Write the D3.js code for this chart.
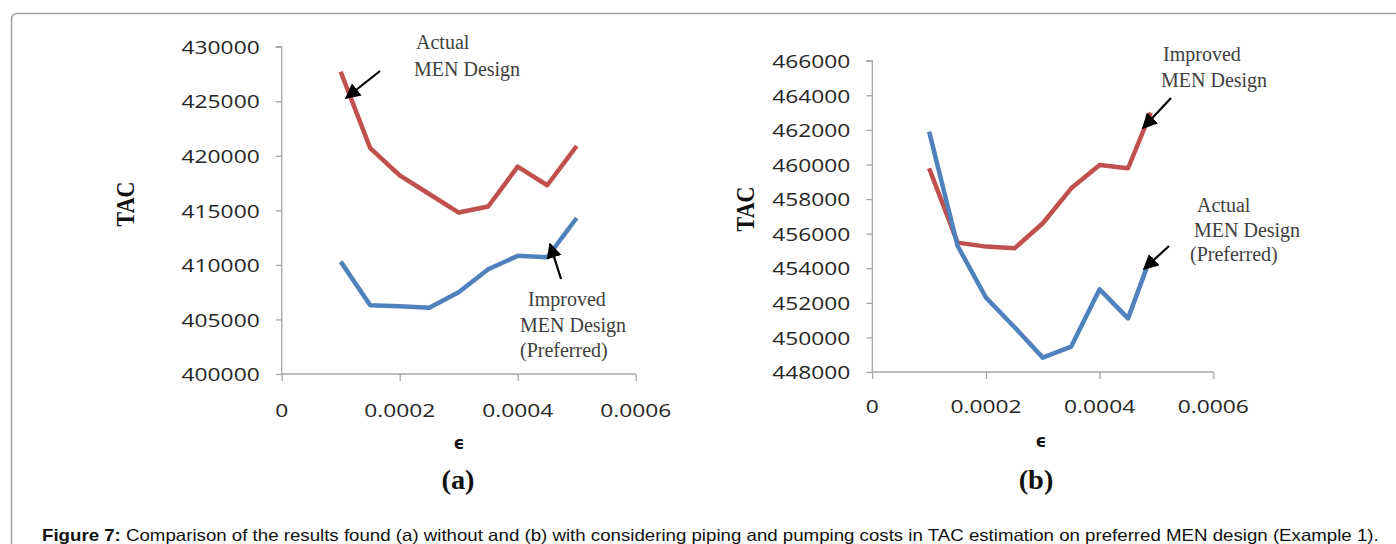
<!DOCTYPE html>
<html>
<head>
<meta charset="utf-8">
<script src="https://cdn.jsdelivr.net/npm/d3@7"></script>
<style>
  html, body { margin: 0; padding: 0; background: #fff; }
  svg { display: block; }
</style>
</head>
<body>
<svg id="fig" width="1396" height="544"></svg>
<script>
// ε values (x) for each panel
const epsA = [0.0001, 0.00015, 0.0002, 0.00025, 0.0003, 0.00035, 0.0004, 0.00045, 0.0005];
const epsB = [0.0001, 0.00015, 0.0002, 0.00025, 0.0003, 0.00035, 0.0004, 0.00045, 0.00049];

// Panel (a): without piping and pumping costs
const tacA_actual   = [427700, 420700, 418200, 416500, 414800, 415350, 419000, 417300, 420900];
const tacA_improved = [410300, 406300, 406200, 406070, 407500, 409600, 410830, 410700, 414300];

// Panel (b): with piping and pumping costs
const tacB_improved = [459780, 455480, 455250, 455150, 456600, 458620, 459970, 459780, 463000];
const tacB_actual   = [461900, 455300, 452300, 450600, 448830, 449470, 452780, 451100, 454670];

// Tick labels
const xTicks  = [0, 0.0002, 0.0004, 0.0006];
const yTicksA = [400000, 405000, 410000, 415000, 420000, 425000, 430000];
const yTicksB = [448000, 450000, 452000, 454000, 456000, 458000, 460000, 462000, 464000, 466000];

const RED = "#c0504d", BLUE = "#4f81bd";
const AXIS = "#a6a6a6", LABEL = "#262626", NOTE = "#404040";
const TICKFONT = "'Open Sans', sans-serif", SERIF = "'Liberation Serif', 'Times New Roman', serif";
const SX = 1.2; // horizontal widening applied to sans labels

const svg = d3.select("#fig");

// frame around the figure
svg.append("path")
  .attr("d", "M11.5,1000 L11.5,19.5 Q11.5,13.5 17.5,13.5 L1500,13.5")
  .attr("fill", "none").attr("stroke", "#a0a0a0").attr("stroke-width", 1.5);

function label(g, x, y, str, o = {}) {
  const sx = o.sx || 1;
  const rot = o.rotate ? ` rotate(${o.rotate})` : "";
  return g.append("text")
    .attr("transform", `translate(${x},${y}) scale(${sx},1)${rot}`)
    .attr("text-anchor", o.anchor || "start")
    .attr("dominant-baseline", o.baseline || "auto")
    .attr("font-family", o.font || SERIF)
    .attr("font-size", o.size || 20)
    .attr("font-weight", o.weight || "normal")
    .attr("fill", o.fill || NOTE)
    .text(str);
}

function arrow(g, x1, y1, x2, y2) {
  g.append("line").attr("x1", x1).attr("y1", y1).attr("x2", x2).attr("y2", y2)
    .attr("stroke", "#000").attr("stroke-width", 2.2).attr("marker-end", "url(#head)");
}

const defs = svg.append("defs");
defs.append("marker").attr("id", "head")
  .attr("viewBox", "0 0 10 10").attr("refX", 9).attr("refY", 5)
  .attr("markerWidth", 7).attr("markerHeight", 7).attr("markerUnits", "strokeWidth")
  .attr("orient", "auto")
  .append("path").attr("d", "M0,0 L10,5 L0,10 Z").attr("fill", "#000");

function panel(cfg) {
  const g = svg.append("g");
  const x = d3.scaleLinear().domain([0, 0.0006]).range([cfg.x0, cfg.x1]);
  const y = d3.scaleLinear().domain(cfg.yDomain).range([cfg.y0, cfg.y1]);

  // y axis
  const ya = g.append("g").attr("transform", `translate(${cfg.x0},0)`)
    .call(d3.axisLeft(y).tickValues(cfg.yTicks).tickSize(6).tickFormat(d => ""));
  ya.selectAll("path, line").attr("stroke", AXIS).attr("stroke-width", 1.3);
  ya.select(".domain").attr("d", `M-6,${cfg.y1}H0V${cfg.y0}`);
  cfg.yTicks.forEach(v => label(g, cfg.x0 - 22, y(v), String(v),
    { anchor: "end", baseline: "central", font: TICKFONT, size: 19, fill: LABEL, sx: SX }));

  // x axis
  const xa = g.append("g").attr("transform", `translate(0,${cfg.y0})`)
    .call(d3.axisBottom(x).tickValues(xTicks).tickSize(7).tickFormat(d => ""));
  xa.selectAll("path, line").attr("stroke", AXIS).attr("stroke-width", 1.3);
  xa.select(".domain").attr("d", `M${cfg.x0},0H${cfg.x1}`);
  xTicks.forEach(v => label(g, x(v), cfg.y0 + cfg.xLabelDy, v === 0 ? "0" : v.toFixed(4),
    { anchor: "middle", baseline: "central", font: TICKFONT, size: 19, fill: LABEL, sx: SX }));

  // series
  const line = d3.line().x(d => x(d[0])).y(d => y(d[1]));
  cfg.series.forEach(s => {
    g.append("path").datum(cfg.eps.map((e, i) => [e, s.values[i]]))
      .attr("d", line).attr("fill", "none").attr("stroke", s.color)
      .attr("stroke-width", 4.5).attr("stroke-linejoin", "round");
  });

  // axis titles
  label(g, cfg.tacX, cfg.tacY, "TAC",
    { anchor: "middle", baseline: "central", size: 22, weight: "bold", fill: "#111", sx: 1.15, rotate: -90 });
  label(g, cfg.epsX, cfg.epsY, "\u03F5",
    { anchor: "middle", baseline: "central", font: "'DejaVu Sans', sans-serif", size: 17, weight: "bold", fill: "#111" });
  label(g, cfg.capX, cfg.capY, cfg.cap,
    { anchor: "middle", baseline: "central", size: 27, weight: "bold", fill: "#111", sx: 1.05 });

  cfg.notes.forEach(n => label(g, n[0], n[1], n[2]));
  cfg.arrows.forEach(a => arrow(g, ...a));
}

panel({
  x0: 281.7, x1: 635.7, y0: 374, y1: 46.7,
  yDomain: [400000, 430000], yTicks: yTicksA, xLabelDy: 36,
  eps: epsA,
  series: [{ values: tacA_actual, color: RED }, { values: tacA_improved, color: BLUE }],
  tacX: 125, tacY: 204, epsX: 459, epsY: 443, capX: 458, capY: 480, cap: "(a)",
  notes: [
    [416, 49, "Actual"], [414, 76, "MEN Design"],
    [528, 306, "Improved"], [520, 332, "MEN Design"], [520, 357, "(Preferred)"]
  ],
  arrows: [[380, 71, 346, 98], [561, 279, 550, 244]]
});

panel({
  x0: 872.3, x1: 1213.3, y0: 372, y1: 60.7,
  yDomain: [448000, 466000], yTicks: yTicksB, xLabelDy: 34,
  eps: epsB,
  series: [{ values: tacB_improved, color: RED }, { values: tacB_actual, color: BLUE }],
  tacX: 745, tacY: 209, epsX: 1041, epsY: 441, capX: 1036, capY: 480, cap: "(b)",
  notes: [
    [1163, 61, "Improved"], [1161, 87, "MEN Design"],
    [1197, 212, "Actual"], [1194, 237, "MEN Design"], [1190, 261, "(Preferred)"]
  ],
  arrows: [[1171, 98, 1143, 128], [1169, 246, 1144, 269]]
});

// figure caption
const cap = svg.append("text")
  .attr("font-family", "'Liberation Sans', Arial, sans-serif").attr("font-size", 16.5).attr("fill", "#111");
cap.append("tspan").attr("font-weight", "bold").text("Figure 7:");
cap.append("tspan").text(" Comparison of the results found (a) without and (b) with considering piping and pumping costs in TAC estimation on preferred MEN design (Example 1).");
const w = cap.node().getComputedTextLength();
cap.attr("transform", `translate(42,541) scale(${1338 / w},1)`);
</script>
</body>
</html>
